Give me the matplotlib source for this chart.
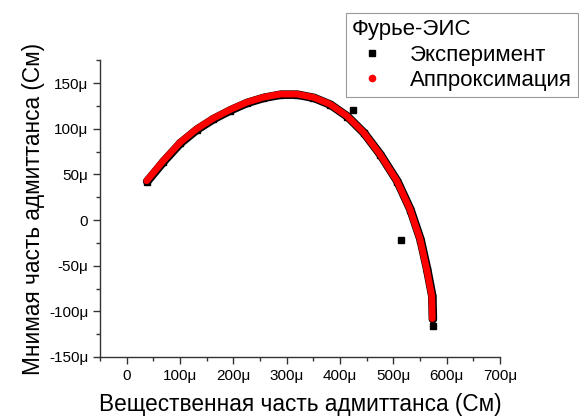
import matplotlib
matplotlib.use("Agg")
import matplotlib.pyplot as plt
import matplotlib.patheffects as pe
from matplotlib.ticker import MultipleLocator, FuncFormatter

plt.rcParams['font.family'] = ['Liberation Sans', 'DejaVu Sans']
plt.rcParams['axes.unicode_minus'] = False

# данные в мкСм
fit_re = [37.5, 68.7, 100, 131, 162.5, 194, 225, 256, 288, 319, 350, 381, 413,
          444, 475, 506.5, 531, 550, 562.5, 572, 573]
fit_im = [43, 65, 85, 99.8, 111.5, 121, 129, 134.5, 138, 138, 134.5, 127, 114,
          96, 72, 43, 12, -21, -54, -83, -108]

exp_re = [37.5, 68.7, 100, 131, 162.5, 194, 225, 256, 288, 319, 350, 381, 425,
          413, 444, 475, 506.5, 514, 531, 550, 562.5, 572, 574]
exp_im = [42, 64, 84, 99, 110.5, 120, 128, 133.5, 137, 137, 133.5, 126, 121,
          113, 95, 71, 42, -21.6, 11, -22, -55, -84, -116]

xticks = [0, 100, 200, 300, 400, 500, 600, 700]
yticks = [-150, -100, -50, 0, 50, 100, 150]

fig = plt.figure(figsize=(5.79, 4.19), dpi=100)
ax = fig.add_axes([0.1727, 0.148, 0.691, 0.708])

ax.plot(exp_re, exp_im, 's', color='black', markersize=4, zorder=2,
        label='Эксперимент')
ax.plot(fit_re, fit_im, '-', color='red', linewidth=4.8, solid_capstyle='round',
        solid_joinstyle='round', zorder=3,
        path_effects=[pe.Stroke(linewidth=6.2, foreground='black', offset=(0.4, -0.4),
                                joinstyle='round', capstyle='round'),
                      pe.Normal()])
ax.plot([], [], 'o', color='red', markersize=4.5, label='Аппроксимация')

ax.set_xlim(-50, 700)
ax.set_ylim(-150, 175)
ax.set_xticks(xticks)
ax.set_yticks(yticks)
ax.xaxis.set_minor_locator(MultipleLocator(50))
ax.yaxis.set_minor_locator(MultipleLocator(25))

fmt = FuncFormatter(lambda v, p: '0' if v == 0 else '%dμ' % v)
ax.xaxis.set_major_formatter(fmt)
ax.yaxis.set_major_formatter(fmt)

for s in ['top', 'right']:
    ax.spines[s].set_visible(False)
for s in ['left', 'bottom']:
    ax.spines[s].set_linewidth(1.0)
    ax.spines[s].set_color('#333333')

ax.tick_params(which='major', direction='out', length=5, width=1, labelsize=11,
               color='#333333')
ax.tick_params(which='minor', direction='out', length=3, width=1, color='#333333')

ax.set_xlabel('Вещественная часть адмиттанса (См)', fontsize=16.3, labelpad=7)
ax.set_ylabel('Мнимая часть адмиттанса (См)', fontsize=16.3, labelpad=3)

leg = ax.legend(loc='upper right', bbox_to_anchor=(578 / 579, 1 - 13 / 419),
                bbox_transform=fig.transFigure, title='Фурье-ЭИС',
                alignment='left', fontsize=16, title_fontsize=16,
                fancybox=False, edgecolor='#999999', framealpha=1,
                handletextpad=0.8, borderpad=0.28, labelspacing=0.2,
                handlelength=1.8, borderaxespad=0)
leg.get_frame().set_linewidth(0.8)

fig.savefig('out.png', dpi=100)
